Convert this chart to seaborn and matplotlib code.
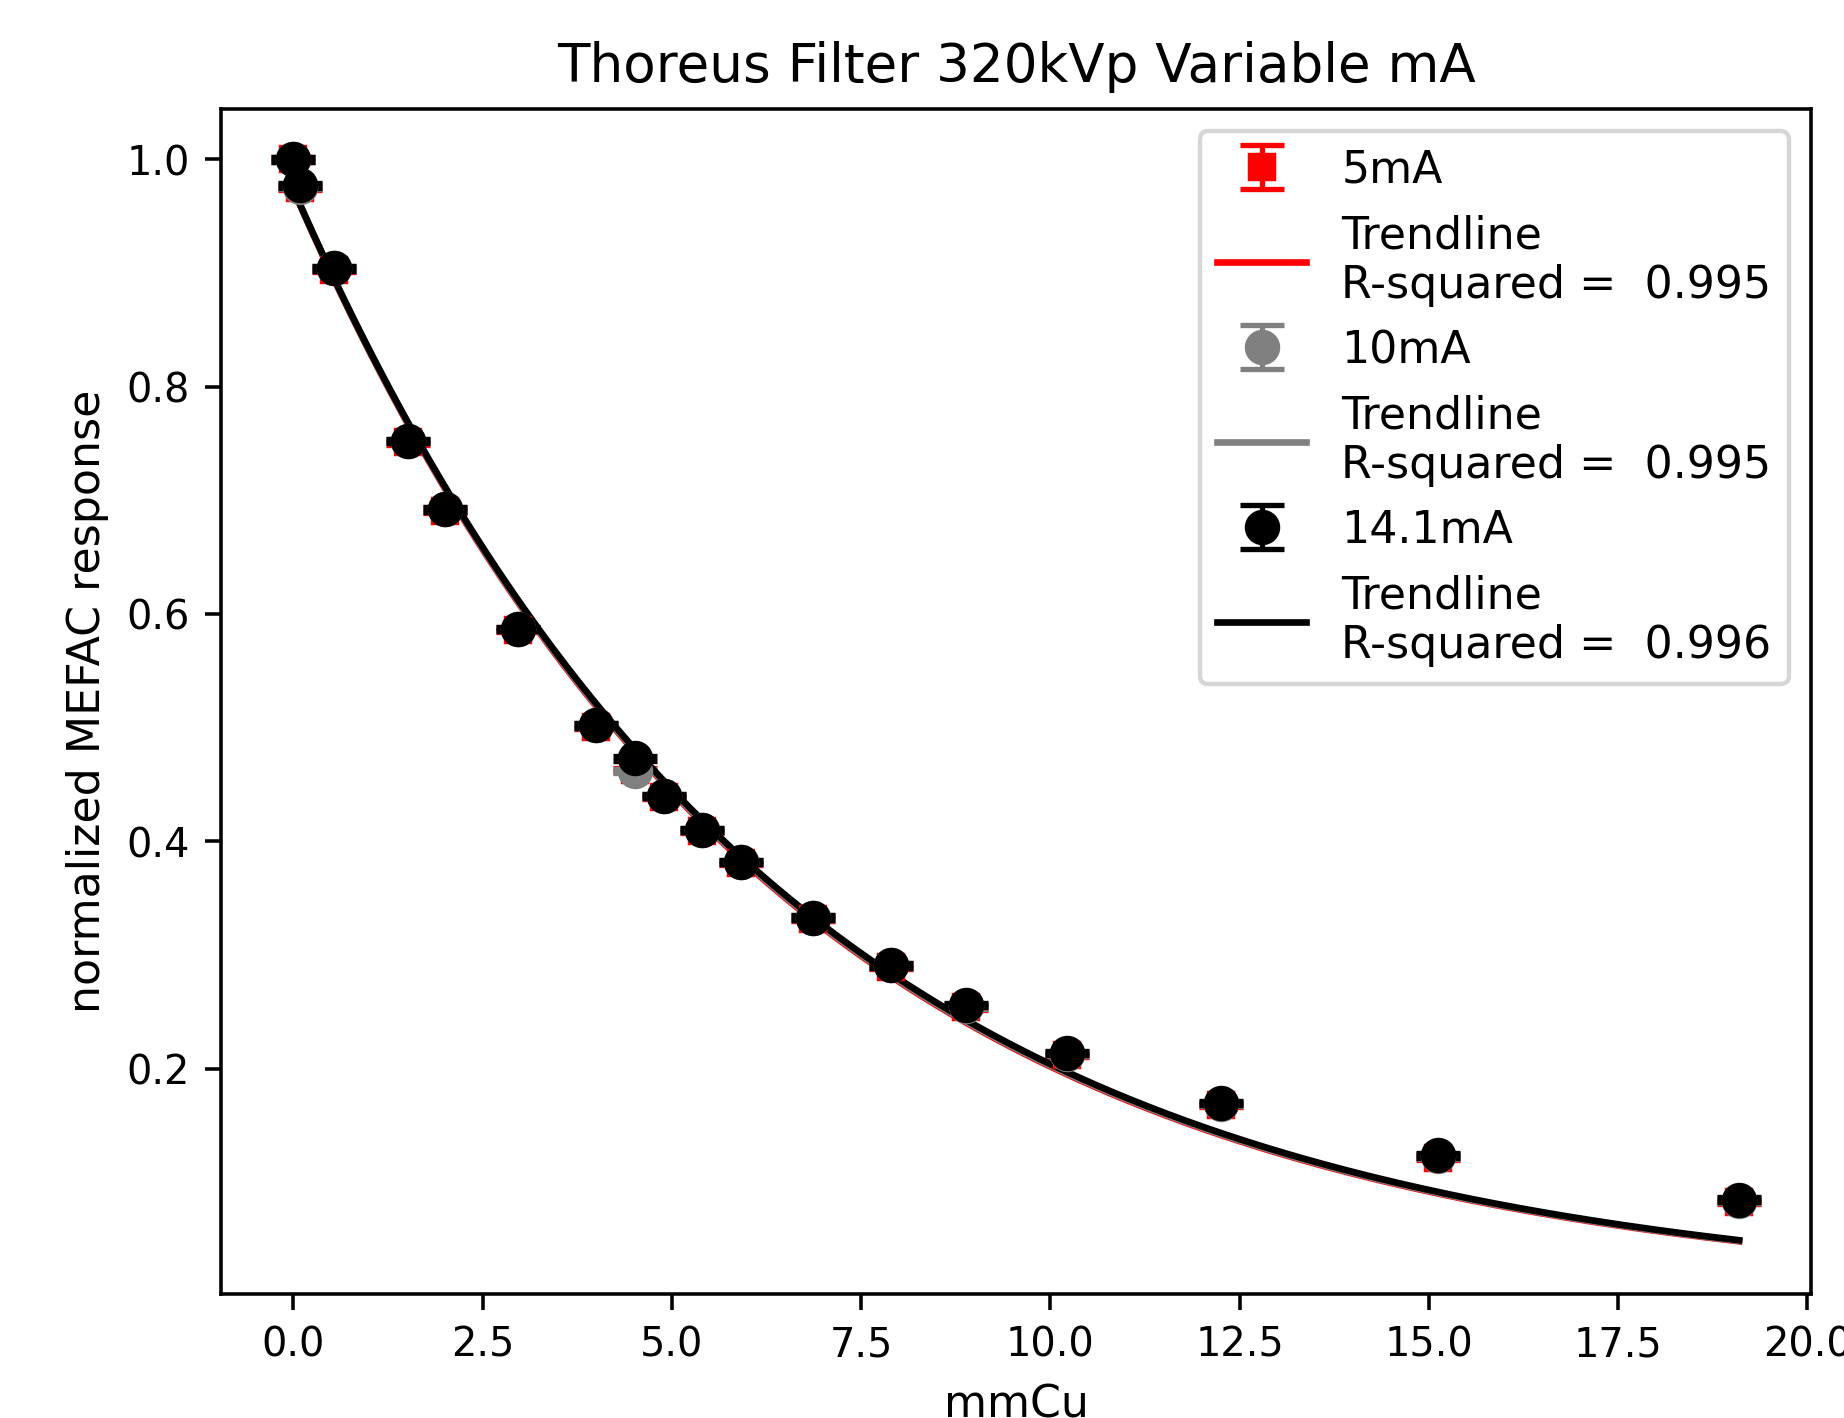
import numpy as np
import matplotlib
matplotlib.use("Agg")
import matplotlib.pyplot as plt
import seaborn as sns

# ---- data ----
thickness_mmcu = [0.0, 0.09, 0.54, 1.52, 2.0, 2.97, 4.0, 4.51, 4.9, 5.4, 5.91,
                  6.87, 7.9, 8.88, 10.22, 12.25, 15.12, 19.1]
resp_5mA = [1.0, 0.975, 0.903, 0.751, 0.691, 0.586, 0.501, 0.463, 0.439, 0.409,
            0.381, 0.332, 0.290, 0.254, 0.212, 0.168, 0.122, 0.083]
resp_10mA = [1.0, 0.976, 0.904, 0.752, 0.692, 0.587, 0.502, 0.462, 0.440, 0.410,
             0.382, 0.333, 0.291, 0.255, 0.213, 0.169, 0.123, 0.084]
resp_14mA = [1.0, 0.977, 0.904, 0.752, 0.692, 0.587, 0.502, 0.473, 0.440, 0.410,
             0.382, 0.333, 0.291, 0.256, 0.214, 0.170, 0.124, 0.085]
resp_err = [0.002] * len(thickness_mmcu)

series_labels = ["5mA", "10mA", "14.1mA"]
r_squared = ["0.995", "0.995", "0.996"]
series_colors = ["red", "grey", "black"]
series_markers = ["s", "o", "o"]
marker_sizes = [5.5, 7, 7]


def exp_fit(x, y):
    """Least-squares fit of y = A*exp(-b*x)."""
    x = np.asarray(x, float)
    y = np.asarray(y, float)
    best = None
    for b in np.linspace(0.05, 0.4, 3501):
        e = np.exp(-b * x)
        A = np.sum(y * e) / np.sum(e * e)
        sse = np.sum((y - A * e) ** 2)
        if best is None or sse < best[0]:
            best = (sse, A, b)
    return best[1], best[2]


dpi = 319
fig = plt.figure(figsize=(1844.4 / dpi, 1418.4 / dpi), dpi=dpi)
ax = fig.add_axes([221 / 1844, 1 - 1294 / 1418, (1811 - 221) / 1844, (1294 - 109) / 1418])

handles, labels = [], []
for y, lab, rs, col, mk, ms in zip([resp_5mA, resp_10mA, resp_14mA], series_labels,
                                   r_squared, series_colors, series_markers, marker_sizes):
    eb = ax.errorbar(thickness_mmcu, y, yerr=resp_err, fmt=mk, color=col,
                     markersize=ms, capsize=5, elinewidth=1.2, capthick=1.2)
    A, b = exp_fit(thickness_mmcu, y)
    xf = np.linspace(min(thickness_mmcu), max(thickness_mmcu), 300)
    sns.lineplot(x=xf, y=A * np.exp(-b * xf), color=col, linewidth=1.5, ax=ax)
    handles += [eb, ax.lines[-1]]
    labels += [lab, "Trendline\nR-squared =  " + rs]

ax.set_xlim(-0.955, 20.055)
ax.set_ylim(0.002, 1.0445)
ax.set_xticks(np.arange(0, 20.01, 2.5))
ax.set_yticks([0.2, 0.4, 0.6, 0.8, 1.0])
ax.tick_params(labelsize=9)
ax.set_title("Thoreus Filter 320kVp Variable mA", fontsize=12)
ax.set_xlabel("mmCu", fontsize=10)
ax.set_ylabel("normalized MEFAC response", fontsize=10)
ax.legend(handles, labels, loc="upper right", fontsize=10)

fig.savefig("out.png", dpi=dpi)
